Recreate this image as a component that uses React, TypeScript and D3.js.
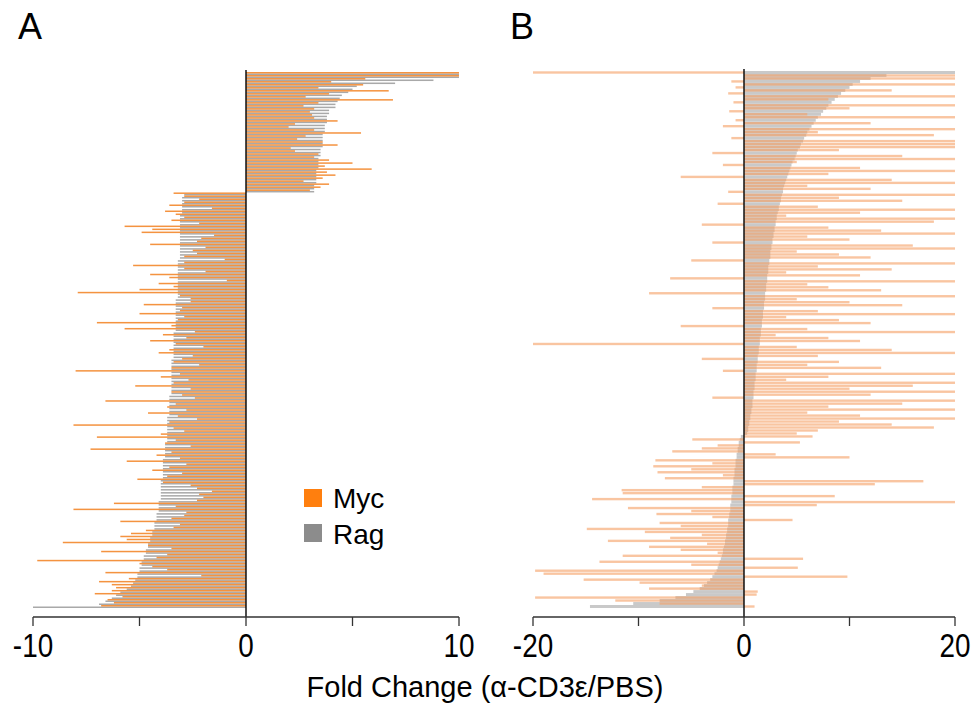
import React from "react";
import * as d3 from "d3";

// Panel A: Rag (gray, sort key) and Myc (orange) fold changes, top to bottom
const ragApos = [
  10, 10, 8.8, 7.0, 5.2, 5.0, 4.8, 4.5, 4.4, 4.3,
  4.2, 4.2, 3.9, 3.9, 3.8, 3.8, 3.8, 3.7, 3.7, 3.7,
  3.6, 3.6, 3.6, 3.6, 3.6, 3.5, 3.5, 3.5, 3.4, 3.4,
  3.4, 3.4, 3.3, 3.3, 3.3, 3.3, 3.3, 3.2, 3.2, 3.2,
];
const mycApos = [
  10, 10, 5.6, 4.0, 5.5, 3.4, 6.7, 3.9, 2.8, 6.9,
  3.4, 2.7, 3.2, 3.0, 3.1, 3.2, 4.3, 2.3, 2.0, 3.2,
  5.4, 2.8, 2.4, 3.6, 4.3, 2.1, 2.3, 3.4, 3.2, 3.9,
  5.0, 3.7, 5.9, 3.8, 4.2, 3.6, 2.7, 3.9, 3.5, 3.0,
];
const ragAneg = [
  -2.9, -3.0, -3.0, -3.0, -3.0, -3.0, -3.0, -3.1, -3.1, -3.1,
  -3.1, -3.1, -3.1, -3.1, -3.1, -3.1, -3.1, -3.1, -3.1, -3.1,
  -3.1, -3.1, -3.2, -3.2, -3.2, -3.2, -3.2, -3.2, -3.2, -3.2,
  -3.2, -3.2, -3.2, -3.2, -3.2, -3.3, -3.3, -3.3, -3.3, -3.3,
  -3.3, -3.3, -3.3, -3.3, -3.3, -3.3, -3.4, -3.4, -3.4, -3.4,
  -3.4, -3.4, -3.4, -3.4, -3.4, -3.5, -3.5, -3.5, -3.5, -3.5,
  -3.5, -3.5, -3.5, -3.5, -3.5, -3.5, -3.5, -3.6, -3.6, -3.6,
  -3.6, -3.6, -3.6, -3.6, -3.7, -3.7, -3.7, -3.7, -3.7, -3.7,
  -3.7, -3.7, -3.7, -3.8, -3.8, -3.8, -3.8, -3.8, -3.9, -3.9,
  -3.9, -3.9, -3.9, -3.9, -3.9, -4.0, -4.0, -4.0, -4.0, -4.0,
  -4.0, -4.0, -4.1, -4.1, -4.1, -4.1, -4.2, -4.2, -4.2, -4.3,
  -4.3, -4.3, -4.4, -4.4, -4.5, -4.5, -4.6, -4.6, -4.7, -4.7,
  -4.8, -4.8, -4.9, -4.9, -5.0, -5.0, -5.1, -5.1, -5.2, -5.3,
  -5.4, -5.6, -5.9, -6.1, -6.3, -6.6, -6.9, -10,
];
const mycAneg = [
  -3.4, -2.9, -2.2, -2.9, -3.6, -1.6, -3.8, -3.3, -2.9, -3.5,
  -2.2, -5.7, -4.4, -4.9, -1.5, -2.1, -2.3, -4.5, -1.9, -2.5,
  -2.3, -2.9, -1.0, -2.9, -5.3, -2.9, -1.9, -4.5, -3.6, -0.9,
  -4.1, -3.4, -5.0, -7.9, -3.1, -2.6, -2.6, -4.8, -3.0, -3.1,
  -5.0, -2.9, -3.2, -7.0, -3.5, -5.7, -2.4, -3.9, -2.8, -4.5,
  -3.3, -2.0, -3.6, -4.1, -2.5, -3.0, -3.4, -2.2, -3.5, -8.0,
  -3.1, -4.0, -2.7, -3.4, -5.2, -2.6, -3.5, -3.0, -2.4, -6.6,
  -3.3, -3.7, -2.8, -4.6, -3.2, -2.3, -3.6, -8.1, -3.4, -2.9,
  -4.0, -7.0, -3.3, -3.8, -2.6, -7.3, -3.5, -4.2, -3.1, -5.6,
  -2.8, -3.6, -4.4, -3.0, -3.7, -5.1, -3.9, -2.6, -2.3, -1.6,
  -2.2, -2.0, -2.3, -6.2, -3.3, -8.1, -2.8, -2.9, -3.5, -5.9,
  -3.1, -3.4, -4.7, -5.4, -5.9, -5.6, -8.6, -4.6, -3.5, -6.8,
  -3.7, -4.2, -9.8, -5.0, -4.4, -3.7, -6.6, -2.1, -5.5, -6.9,
  -6.3, -6.1, -6.3, -7.1, -5.8, -6.5, -6.2, -6.8,
];

// Panel B
const ragBpos = [
  20, 13.5, 12, 11, 10.3, 10, 9.6, 9.2, 8.9, 8.6,
  8.3, 8.0, 7.8, 7.5, 7.3, 7.0, 6.8, 6.6, 6.4, 6.2,
  6.0, 5.9, 5.7, 5.6, 5.4, 5.3, 5.1, 5.0, 4.9, 4.8,
  4.6, 4.5, 4.4, 4.3, 4.2, 4.1, 4.0, 3.9, 3.8, 3.7,
  3.7, 3.6, 3.5, 3.5, 3.4, 3.3, 3.3, 3.2, 3.1, 3.1,
  3.0, 3.0, 2.9, 2.9, 2.8, 2.8, 2.7, 2.7, 2.6, 2.6,
  2.5, 2.5, 2.5, 2.4, 2.4, 2.3, 2.3, 2.3, 2.2, 2.2,
  2.2, 2.1, 2.1, 2.1, 2.0, 2.0, 2.0, 1.9, 1.9, 1.9,
  1.8, 1.8, 1.8, 1.7, 1.7, 1.7, 1.6, 1.6, 1.6, 1.5,
  1.5, 1.5, 1.4, 1.4, 1.4, 1.3, 1.3, 1.3, 1.2, 1.2,
  1.2, 1.1, 1.1, 1.1, 1.0, 1.0, 1.0, 0.9, 0.9, 0.9,
  0.8, 0.8, 0.8, 0.7, 0.7, 0.6, 0.6, 0.5, 0.5, 0.4,
  0.4, 0.3,
];
const ragBneg = [
  -0.3, -0.4, -0.5, -0.5, -0.6, -0.6, -0.7, -0.7, -0.8, -0.8,
  -0.8, -0.9, -0.9, -0.9, -1.0, -1.0, -1.0, -1.1, -1.1, -1.1,
  -1.2, -1.2, -1.2, -1.3, -1.3, -1.3, -1.4, -1.4, -1.5, -1.5,
  -1.5, -1.6, -1.6, -1.7, -1.7, -1.8, -1.8, -1.9, -2.0, -2.0,
  -2.1, -2.2, -2.3, -2.4, -2.5, -2.6, -2.8, -3.0, -3.2, -3.5,
  -3.8, -4.2, -4.8, -5.5, -6.5, -8.0, -10.5, -14.6,
];
const mycBpos = [
  -20, 20, 20, -1.2, 20, -0.8, 14, -1.5, 20, 8,
  -1, 20, 10, -1.4, 6, 20, -0.8, 12, -2, 20,
  7, 18, -1.2, 20, 20, 20, 9, -3, 15, 20,
  5, -2, 11, 20, 8, -6, 14, 20, 6, 12,
  -1.5, 20, 9, 15, -2.5, 7, 20, 11, 4, 20,
  18, -4, 8, 13, 20, 6, 10, -3, 16, 20,
  5, 9, 12, -5, 20, 7, 14, 4, 11, -7,
  20, 6, 8, 13, -9, 20, 5, 10, 15, -3,
  7, 20, 4, 9, 12, -6, 6, 20, 3, 8,
  11, -20, 5, 14, 20, 7, -4, 9, 6, 13,
  -2, 20, 8, 4, 20, 16, 10, 20, 12, -3,
  20, 15, 8, 20, 6, 11, 20, 9, 14, 18,
  7, 5,
];
const mycBneg = [
  6.5, -4.9, 5.3, -2.5, -4, -6.8, 3, 10, -8.4, -3,
  -8.6, -5, -8.2, -2, -7.5, 17, 12.4, -4, -11.6, -11.5,
  8.6, -14.4, 20, 6.9, -11, -5, -8.3, -3, 4.6, -8,
  -6, -14.9, -9.4, -4, -7, -12.9, -3.5, -9, -6, -2.5,
  -11.5, 5.6, -13.7, -5, 5.1, -19.8, -19, 9.8, -15.2, -9.9,
  -4, -9, 1.3, 1.2, -19.8, -12.2, -8, 1,
];

const ragA = [...ragApos, ...ragAneg];
const mycA = [...mycApos, ...mycAneg];
const ragB = [...ragBpos, ...ragBneg];
const mycB = [...mycBpos, ...mycBneg];

const FONT = "'Liberation Sans', Arial, sans-serif";
const axisY = 617;

type PanelProps = {
  rag: number[];
  myc: number[];
  domain: [number, number];
  range: [number, number];
  ticks: number[];
  labels: number[];
  top: number;
  letter: string;
  letterX: number;
  light: boolean;
};

const Panel = ({ rag, myc, domain, range, ticks, labels, top, letter, letterX, light }: PanelProps) => {
  const x = d3.scaleLinear().domain(domain).range(range);
  const y = d3
    .scaleBand<number>()
    .domain(d3.range(rag.length))
    .range([top, 608]);
  const bw = y.bandwidth();
  const x0 = x(0);

  return (
    <g>
      <text x={letterX} y={39} fontSize={36} fontFamily={FONT}>
        {letter}
      </text>
      {/* Rag bars */}
      {rag.map((v, i) => (
        <rect
          key={"r" + i}
          x={Math.min(x(v), x0)}
          y={light ? y(i)! : y(i)! + bw / 2}
          width={Math.abs(x(v) - x0)}
          height={light ? bw : bw / 2}
          fill={light ? "#c6c6c6" : "#9a9a9a"}
          opacity={light ? 0.95 : 0.85}
        />
      ))}
      {/* Myc bars */}
      {myc.map((v, i) => (
        <rect
          key={"m" + i}
          x={Math.min(x(v), x0)}
          y={light ? y(i)! + bw * 0.1 : y(i)!}
          width={Math.abs(x(v) - x0)}
          height={light ? bw * 0.8 : bw / 2}
          fill={light ? "#f5a267" : "#f2801e"}
          opacity={light ? 0.62 : 0.85}
        />
      ))}
      {/* zero line */}
      <line x1={x0} x2={x0} y1={top - 2} y2={axisY} stroke="#000" strokeWidth={1.4} />
      {/* axis */}
      <line x1={range[0]} x2={range[1]} y1={axisY} y2={axisY} stroke="#333" strokeWidth={1.3} />
      {ticks.map((t) => (
        <line key={"t" + t} x1={x(t)} x2={x(t)} y1={axisY} y2={axisY + 9} stroke="#333" strokeWidth={1.3} />
      ))}
      {labels.map((t) => (
        <text
          key={"l" + t}
          transform={`translate(${x(t)},657) scale(0.82,1)`}
          textAnchor="middle"
          fontSize={34}
          fontFamily={FONT}
        >
          {t}
        </text>
      ))}
    </g>
  );
};

export default function App() {
  return (
    <svg width={974} height={703} style={{ position: "absolute", left: 0, top: 0 }}>
      <rect width={974} height={703} fill="#fff" />
      <Panel
        rag={ragA}
        myc={mycA}
        domain={[-10, 10]}
        range={[33, 459]}
        ticks={[-10, -5, 0, 5, 10]}
        labels={[-10, 0, 10]}
        top={72}
        letter="A"
        letterX={18}
        light={false}
      />
      <Panel
        rag={ragB}
        myc={mycB}
        domain={[-20, 20]}
        range={[533, 955]}
        ticks={[-20, -10, 0, 10, 20]}
        labels={[-20, 0, 20]}
        top={71}
        letter="B"
        letterX={510}
        light={true}
      />
      {/* legend */}
      <rect x={304} y={489} width={18} height={18} fill="#ff7f0e" />
      <text x={333} y={508} fontSize={28} fontFamily={FONT}>
        Myc
      </text>
      <rect x={304} y={524} width={18} height={18} fill="#8c8c8c" />
      <text x={333} y={544} fontSize={28} fontFamily={FONT}>
        Rag
      </text>
      <text x={485} y={697} textAnchor="middle" fontSize={29} fontFamily={FONT}>
        Fold Change (α-CD3ε/PBS)
      </text>
    </svg>
  );
}
